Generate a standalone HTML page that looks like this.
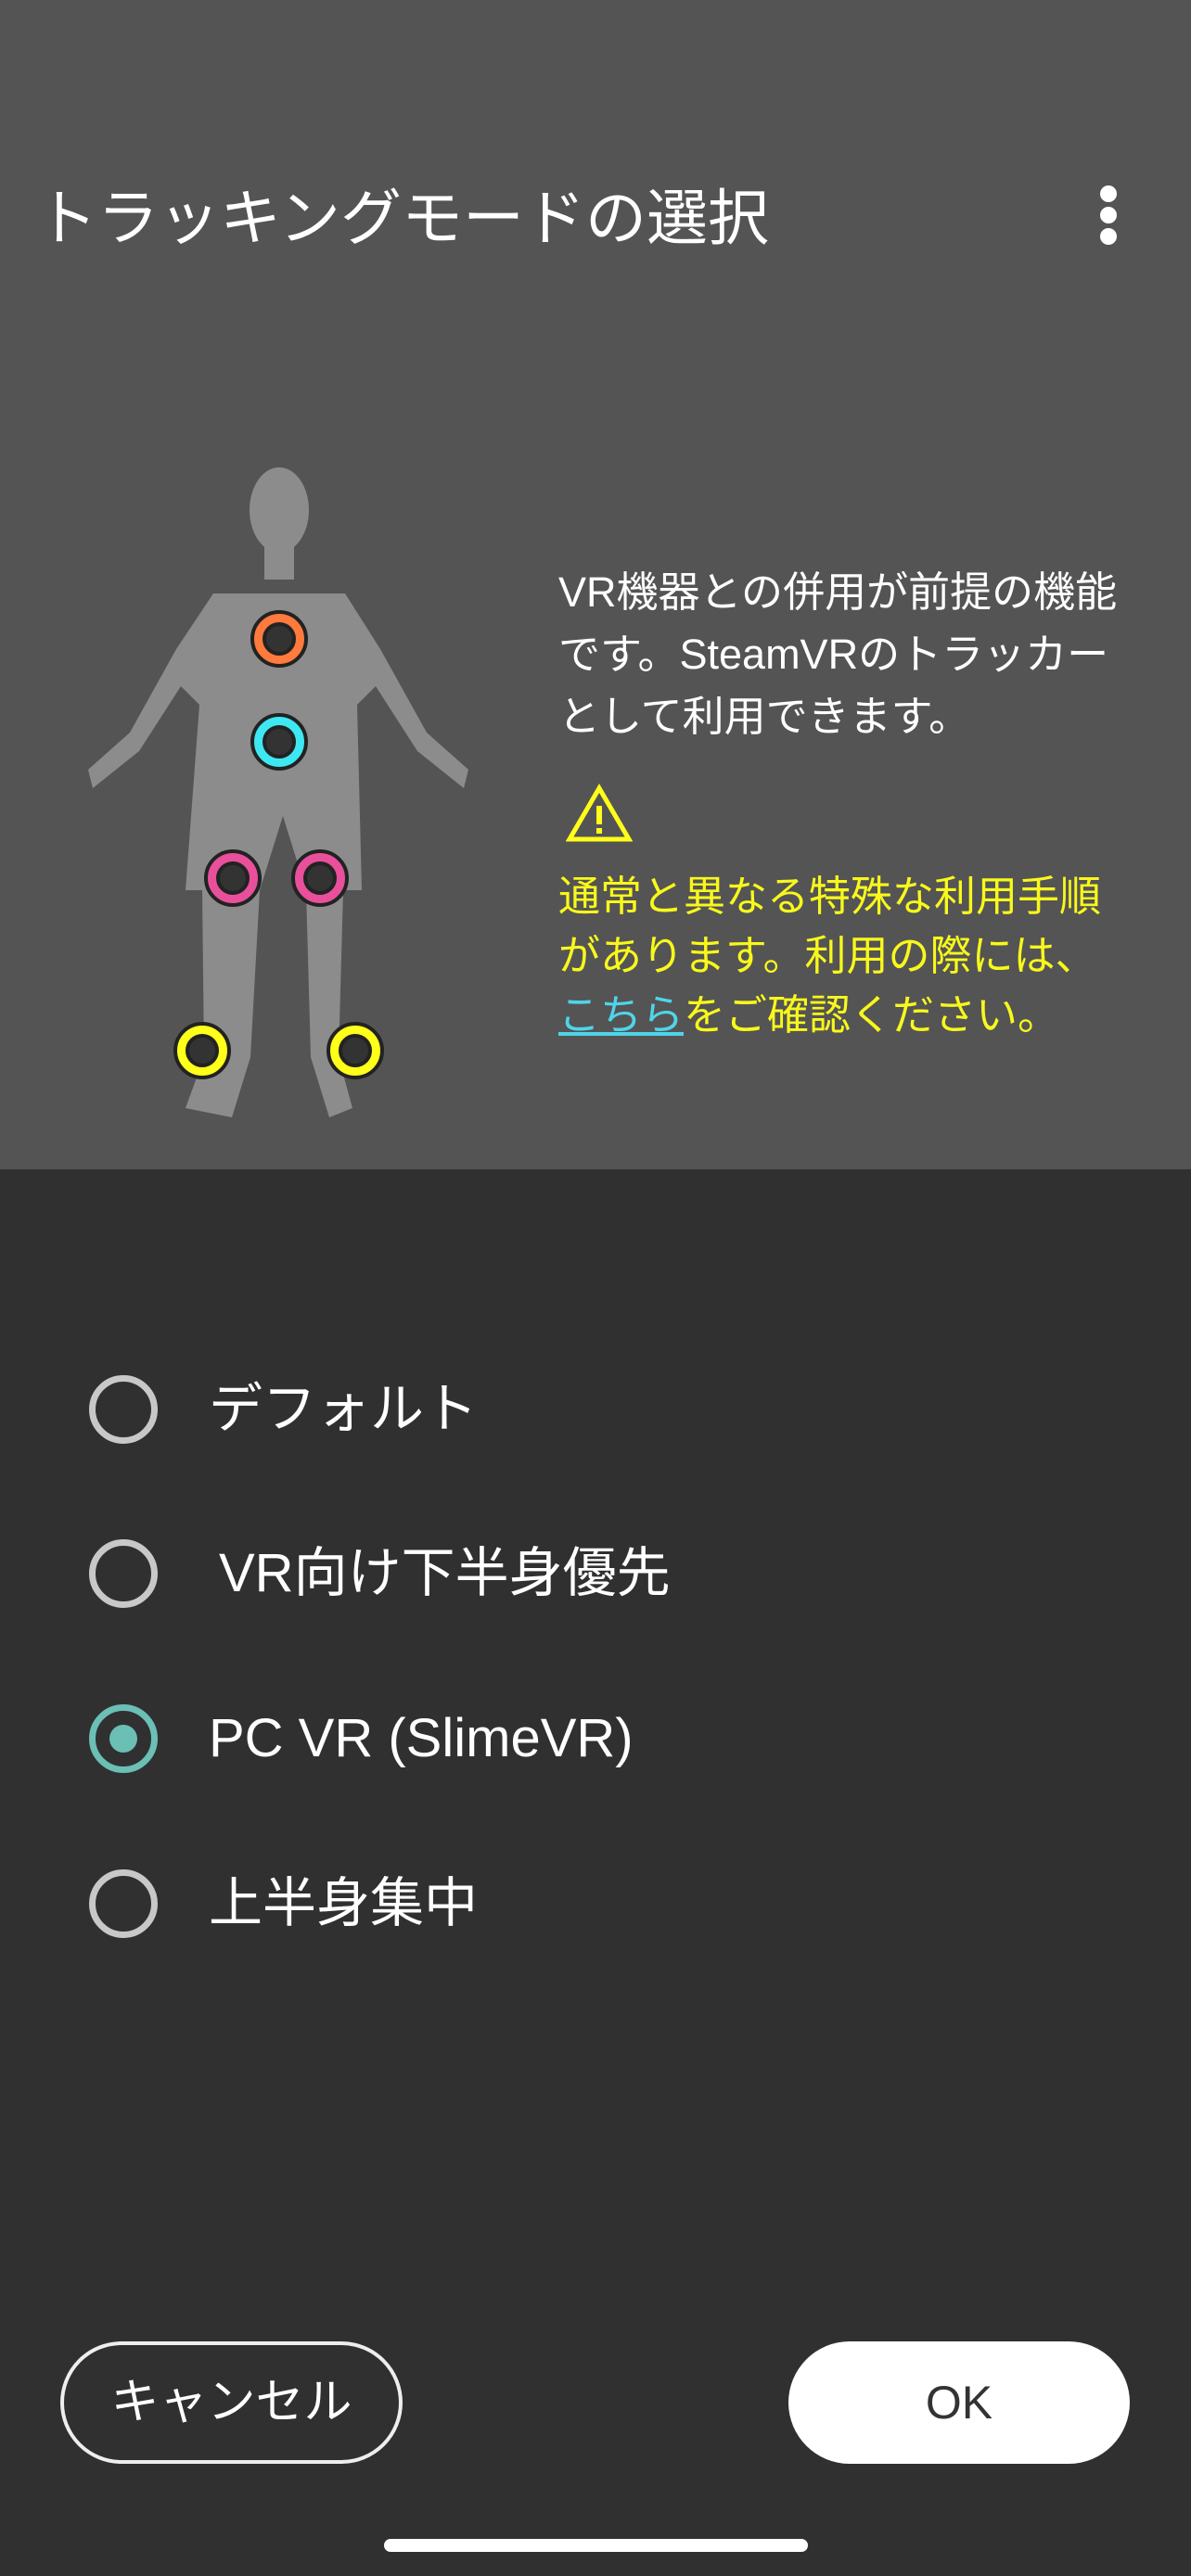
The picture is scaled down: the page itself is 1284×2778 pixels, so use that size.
<!DOCTYPE html>
<html><head><meta charset="utf-8"><style>
body{margin:0;width:1284px;height:2778px;background:#303030;position:relative;overflow:hidden;font-family:"Liberation Sans","Noto Sans CJK JP",sans-serif;color:#fff}
.top{position:absolute;left:0;top:0;width:1284px;height:1261px;background:#545454}
.t{position:absolute;white-space:nowrap}
.radio{position:absolute;left:96px;width:74px;height:74px;border:7px solid #c8c8c8;border-radius:50%;box-sizing:border-box}
.lbl{position:absolute;left:225px;font-size:58px;line-height:70px}
</style></head><body>
<div class="top"></div>
<div class="t" style="left:39px;top:195px;font-size:66px;line-height:80px">トラッキングモードの選択</div>
<svg style="position:absolute;left:1180px;top:195px" width="30" height="75"><circle cx="15" cy="14" r="9" fill="#fff"/><circle cx="15" cy="37" r="9" fill="#fff"/><circle cx="15" cy="60" r="9" fill="#fff"/></svg>
<svg style="position:absolute;left:0;top:0" width="600" height="1261">
<g fill="#8c8c8c">
<ellipse cx="301" cy="550" rx="32" ry="46"/>
<rect x="285" y="585" width="32" height="40"/>
<path d="M230 640 L372 640 L410 700 L460 790 L505 830 L500 850 L450 810 L405 740 L385 760 L390 960 L370 960 L365 1140 L380 1195 L355 1205 L335 1140 L330 960 L305 880 L280 960 L270 1140 L250 1205 L200 1195 L220 1140 L218 960 L200 960 L215 760 L195 740 L150 810 L100 850 L95 830 L140 790 L190 700 Z"/>
</g>
<g stroke="#222" stroke-width="4">
<circle cx="301" cy="689" r="29" fill="#ff7a3d"/><circle cx="301" cy="689" r="16" fill="#333"/>
<circle cx="301" cy="800" r="29" fill="#3ee8f2"/><circle cx="301" cy="800" r="16" fill="#333"/>
<circle cx="251" cy="947" r="29" fill="#e8509b"/><circle cx="251" cy="947" r="16" fill="#333"/>
<circle cx="345" cy="947" r="29" fill="#e8509b"/><circle cx="345" cy="947" r="16" fill="#333"/>
<circle cx="218" cy="1133" r="29" fill="#ffff1a"/><circle cx="218" cy="1133" r="16" fill="#333"/>
<circle cx="383" cy="1133" r="29" fill="#ffff1a"/><circle cx="383" cy="1133" r="16" fill="#333"/>
</g>
</svg>
<div class="t" style="left:602px;top:605px;font-size:45px;line-height:67px">VR機器との併用が前提の機能<br>です。SteamVRのトラッカー<br>として利用できます。</div>
<svg style="position:absolute;left:610px;top:845px" width="72" height="64"><path d="M36 5 L68 60 L4 60 Z" fill="none" stroke="#ffff1a" stroke-width="5"/><rect x="33" y="24" width="6" height="20" fill="#ffff1a"/><rect x="33" y="48" width="6" height="6" fill="#ffff1a"/></svg>
<div class="t" style="left:602px;top:935px;font-size:45px;line-height:64px;color:#f8f81c">通常と異なる特殊な利用手順<br>があります。利用の際には、<br><span style="color:#4fd5ea;text-decoration:underline">こちら</span>をご確認ください。</div>
<div class="radio" style="top:1483px"></div>
<div class="lbl" style="top:1485px">デフォルト</div>
<div class="radio" style="top:1660px"></div>
<div class="lbl" style="top:1662px;left:236px">VR向け下半身優先</div>
<div class="radio" style="top:1838px;border-color:#6bbfb5"><div style="position:absolute;left:15px;top:15px;width:30px;height:30px;border-radius:50%;background:#6bbfb5"></div></div>
<div class="lbl" style="top:1840px">PC VR (SlimeVR)</div>
<div class="radio" style="top:2016px"></div>
<div class="lbl" style="top:2018px">上半身集中</div>
<div style="position:absolute;left:65px;top:2525px;width:369px;height:132px;border:4px solid #eee;border-radius:66px;box-sizing:border-box;text-align:center;line-height:124px;font-size:52px">キャンセル</div>
<div style="position:absolute;left:850px;top:2525px;width:368px;height:132px;background:#fff;border-radius:66px;text-align:center;line-height:132px;font-size:50px;color:#333">OK</div>
<div style="position:absolute;left:414px;top:2738px;width:457px;height:14px;background:#fff;border-radius:7px"></div>
</body></html>
